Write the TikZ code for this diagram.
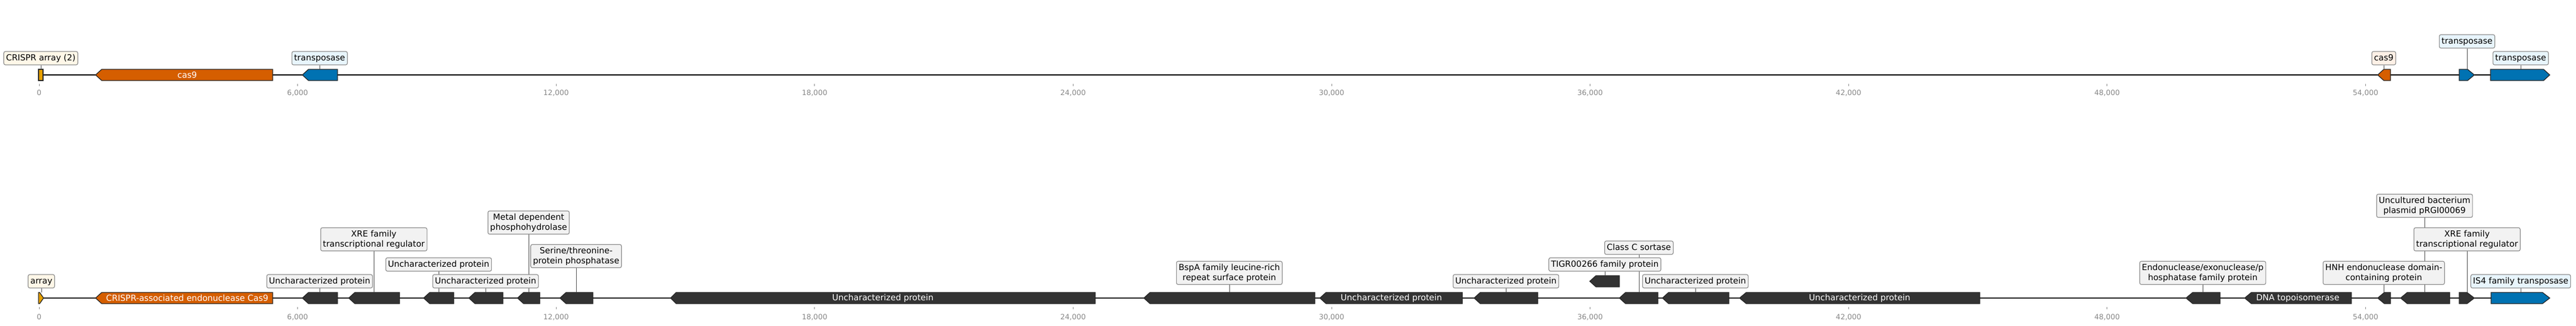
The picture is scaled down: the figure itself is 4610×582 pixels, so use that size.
\documentclass[tikz,border=0pt]{standalone}
\usepackage{fontspec}
\setmainfont{DejaVu Sans}
\definecolor{casorange}{HTML}{D55E00}
\definecolor{arrayyel}{HTML}{E69F00}
\definecolor{tnblue}{HTML}{0072B2}
\definecolor{gdark}{HTML}{333333}
\definecolor{lblgray}{HTML}{F2F2F2}
\definecolor{lblblue}{HTML}{E8F5FC}
\definecolor{lblyel}{HTML}{FFF7E8}
\definecolor{lblorg}{HTML}{FDF0E6}
\definecolor{lblborder}{HTML}{8C8C8C}
\definecolor{tickgray}{HTML}{888888}
\tikzset{
  track/.style={line width=2.2pt, draw=black},
  gene/.style={line width=1.3pt, draw=black!85, line join=miter},
  leader/.style={line width=1pt, draw=black!70},
  lbl1/.style={draw=lblborder, line width=1.2pt, rounded corners=3pt, fill=lblgray,
    inner xsep=4pt, inner ysep=4.5pt, text height=11.5pt, text depth=3.5pt,
    font=\fontsize{15}{18}\selectfont, text=black},
  lbl2/.style={draw=lblborder, line width=1.2pt, rounded corners=3pt, fill=lblgray,
    inner xsep=4pt, inner ysep=4.5pt, align=center,
    font=\fontsize{15}{18}\selectfont, text=black},
  ginner/.style={font=\fontsize{15}{18}\selectfont, text=white, inner sep=0pt},
  tickmark/.style={line width=1pt, draw=tickgray},
  ticklbl/.style={font=\fontsize{13}{15}\selectfont, text=tickgray, inner sep=0pt},
}
% left-pointing gene: tip, body start, body end, centre y, fill
\newcommand\geneL[5]{\draw[gene,fill=#5] (#1,#4) -- (#2,#4-10) -- (#3,#4-10) -- (#3,#4+10) -- (#2,#4+10) -- cycle;}
% right-pointing gene: body start, body end, tip, centre y, fill
\newcommand\geneR[5]{\draw[gene,fill=#5] (#1,#4-10) -- (#2,#4-10) -- (#3,#4) -- (#2,#4+10) -- (#1,#4+10) -- cycle;}
\begin{document}
\begin{tikzpicture}[x=1pt,y=-1pt]
\useasboundingbox (0,0) rectangle (4610,582);
\fill[white] (0,0) rectangle (4610,582);

% ================= TOP TRACK =================
\draw[track] (70,134) -- (4563,134);
\foreach \k/\t in {0/0,1/{6,000},2/{12,000},3/{18,000},4/{24,000},5/{30,000},6/{36,000},7/{42,000},8/{48,000},9/{54,000}}{
  \draw[tickmark] ({70+\k*462.6},150) -- ({70+\k*462.6},154);
  \node[ticklbl] (ta\k) at ({70+\k*462.6},166) {\t};
}
\draw[gene,fill=arrayyel] (69,124) rectangle (77,144);
\coordinate (t1g) at (73,124);
\geneL{171}{182}{488}{134}{casorange}
\node[ginner] (t2n) at (335,134) {cas9};
\geneL{541}{552}{604}{134}{tnblue}
\coordinate (t3g) at (572,124);
\geneL{4255}{4266}{4278}{134}{casorange}
\coordinate (t4g) at (4266,124);
\geneR{4401}{4416}{4428}{134}{tnblue}
\coordinate (t5g) at (4415,124);
\geneR{4457}{4552}{4563}{134}{tnblue}
\coordinate (t6g) at (4511,124);

\node[lbl1,fill=lblyel] (t1l) at (73,104) {CRISPR array (2)};
\node[lbl1,fill=lblblue] (t3l) at (572,104) {transposase};
\node[lbl1,fill=lblorg] (t4l) at (4266,104) {cas9};
\node[lbl1,fill=lblblue] (t5l) at (4415,74) {transposase};
\node[lbl1,fill=lblblue] (t6l) at (4511,104) {transposase};
\draw[leader] (t1l.south) -- (t1g);
\draw[leader] (t3l.south) -- (t3g);
\draw[leader] (t4l.south) -- (t4g);
\draw[leader] (t5l.south) -- (t5g);
\draw[leader] (t6l.south) -- (t6g);

% ================= BOTTOM TRACK =================
\draw[track] (70,533) -- (4563,533);
\foreach \k/\t in {0/0,1/{6,000},2/{12,000},3/{18,000},4/{24,000},5/{30,000},6/{36,000},7/{42,000},8/{48,000},9/{54,000}}{
  \draw[tickmark] ({70+\k*462.6},549) -- ({70+\k*462.6},553);
  \node[ticklbl] (tb\k) at ({70+\k*462.6},567) {\t};
}
\draw[gene,fill=arrayyel] (69,523) -- (71,523) -- (78,533) -- (71,543) -- (69,543) -- cycle;
\coordinate (b1g) at (74,523);
\geneL{171}{182}{488}{533}{casorange}
\node[ginner] (b2n) at (335,533) {CRISPR-associated endonuclease Cas9};
\geneL{541}{552}{604}{533}{gdark}   \coordinate (b3g) at (572,523);
\geneL{624}{635}{715}{533}{gdark}   \coordinate (b4g) at (669,523);
\geneL{758}{769}{812}{533}{gdark}   \coordinate (b5g) at (785,523);
\geneL{839}{850}{900}{533}{gdark}   \coordinate (b6g) at (869,523);
\geneL{926}{937}{966}{533}{gdark}   \coordinate (b7g) at (946,523);
\geneL{1002}{1013}{1061}{533}{gdark} \coordinate (b8g) at (1031,523);
\geneL{1200}{1210}{1960}{533}{gdark}
\node[ginner] (b9n) at (1580,533) {Uncharacterized protein};
\geneL{2047}{2058}{2353}{533}{gdark} \coordinate (b10g) at (2200,523);
\geneL{2362}{2373}{2617}{533}{gdark}
\node[ginner] (b11n) at (2490,533) {Uncharacterized protein};
\geneL{2638}{2649}{2752}{533}{gdark} \coordinate (b12g) at (2695,523);
\geneL{2845}{2856}{2898}{503}{gdark} \coordinate (b13g) at (2872,493);
\geneL{2898}{2909}{2967}{533}{gdark} \coordinate (b14g) at (2933,523);
\geneL{2975}{2986}{3094}{533}{gdark} \coordinate (b15g) at (3034,523);
\geneL{3113}{3125}{3543}{533}{gdark}
\node[ginner] (b16n) at (3328,533) {Uncharacterized protein};
\geneL{3912}{3924}{3973}{533}{gdark} \coordinate (b17g) at (3942,523);
\geneL{4017}{4029}{4208}{533}{gdark}
\node[ginner] (b18n) at (4112,533) {DNA topoisomerase};
\geneL{4255}{4267}{4278}{533}{gdark} \coordinate (b19g) at (4266,523);
\geneL{4296}{4308}{4384}{533}{gdark} \coordinate (b20g) at (4339,523);
\geneR{4401}{4415}{4428}{533}{gdark} \coordinate (b21g) at (4415,523);
\geneR{4458}{4550}{4563}{533}{tnblue} \coordinate (b22g) at (4511,523);

% label centres
\coordinate (b1p) at (74,503);
\coordinate (b3p) at (572,503);
\coordinate (b4p) at (669,428);
\coordinate (b5p) at (785,473);
\coordinate (b6p) at (869,503);
\coordinate (b7p) at (946,398);
\coordinate (b8p) at (1031,458);
\coordinate (b10p) at (2200,488);
\coordinate (b12p) at (2695,503);
\coordinate (b13p) at (2872,473);
\coordinate (b14p) at (2933,443);
\coordinate (b15p) at (3034,503);
\coordinate (b17p) at (3942,488);
\coordinate (b19p) at (4266,488);
\coordinate (b20p) at (4339,368);
\coordinate (b21p) at (4415,428);
\coordinate (b22p) at (4511,503);

% leaders first (behind the boxes)
\foreach \i in {1,3,4,5,6,7,8,10,12,13,14,15,17,19,20,21,22}{
  \draw[leader] (b\i p) -- (b\i g);
}

\node[lbl1,fill=lblyel] (b1l) at (b1p) {array};
\node[lbl1] (b3l) at (b3p) {Uncharacterized protein};
\node[lbl2] (b4l) at (b4p) {XRE family\\transcriptional regulator};
\node[lbl1] (b5l) at (b5p) {Uncharacterized protein};
\node[lbl1] (b6l) at (b6p) {Uncharacterized protein};
\node[lbl2] (b7l) at (b7p) {Metal dependent\\phosphohydrolase};
\node[lbl2] (b8l) at (b8p) {Serine/threonine-\\protein phosphatase};
\node[lbl2] (b10l) at (b10p) {BspA family leucine-rich\\repeat surface protein};
\node[lbl1] (b12l) at (b12p) {Uncharacterized protein};
\node[lbl1] (b14l) at (b14p) {Class C sortase};
\node[lbl1] (b13l) at (b13p) {TIGR00266 family protein};
\node[lbl1] (b15l) at (b15p) {Uncharacterized protein};
\node[lbl2] (b17l) at (b17p) {Endonuclease/exonuclease/p\\hosphatase family protein};
\node[lbl2] (b20l) at (b20p) {Uncultured bacterium\\plasmid pRGI00069};
\node[lbl2] (b21l) at (b21p) {XRE family\\transcriptional regulator};
\node[lbl2] (b19l) at (b19p) {HNH endonuclease domain-\\containing protein};
\node[lbl1,fill=lblblue] (b22l) at (b22p) {IS4 family transposase};
\end{tikzpicture}
\end{document}
